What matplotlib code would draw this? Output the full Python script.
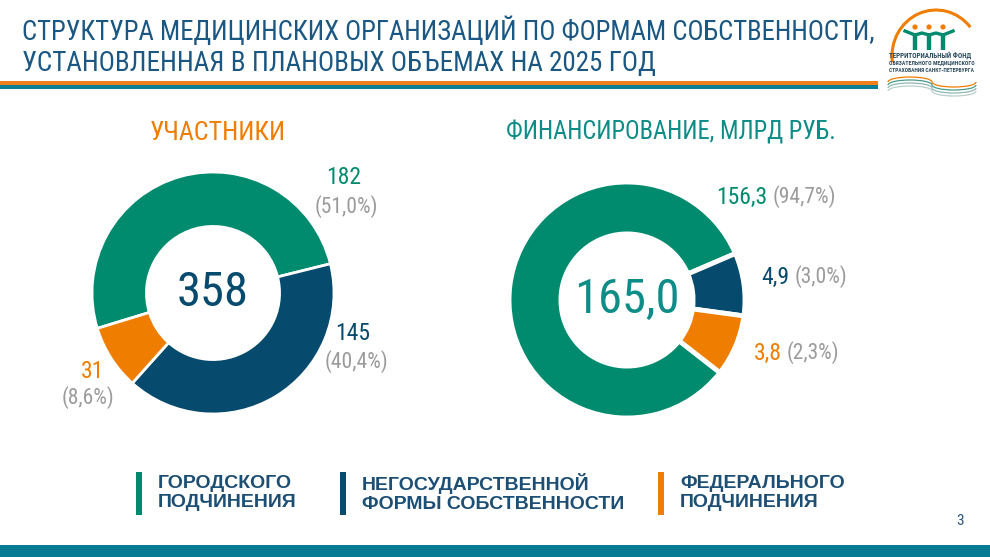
import matplotlib
matplotlib.use('Agg')
from matplotlib import pyplot as plt
from matplotlib import font_manager
from matplotlib.patches import Arc, Rectangle, Circle

# данные
members_values = [182, 145, 31]
members_labels = ['182', '145', '31']
members_pct = ['(51,0%)', '(40,4%)', '(8,6%)']
members_total = '358'

fin_values = ['156,3', '4,9', '3,8']
fin_pct = ['(94,7%)', '(3,0%)', '(2,3%)']
fin_total = '165,0'
# доли секторов, как они нарисованы на слайде (малые секторы увеличены)
fin_drawn = [83.0, 8.6, 8.4]

legend_labels = ['ГОРОДСКОГО\nПОДЧИНЕНИЯ', 'НЕГОСУДАРСТВЕННОЙ\nФОРМЫ СОБСТВЕННОСТИ', 'ФЕДЕРАЛЬНОГО\nПОДЧИНЕНИЯ']
title_lines = ['СТРУКТУРА МЕДИЦИНСКИХ ОРГАНИЗАЦИЙ ПО ФОРМАМ СОБСТВЕННОСТИ,',
               'УСТАНОВЛЕННАЯ В ПЛАНОВЫХ ОБЪЕМАХ НА 2025 ГОД']

green = '#008b6f'
navy = '#064a6e'
orange = '#ef7d00'
gray = '#9b9b9b'
title_col = '#1a5782'
teal = '#0d8c88'
colors = [green, navy, orange]

# узкий шрифт, если есть
names = {f.name for f in font_manager.fontManager.ttflist}
narrow = 'DejaVu Sans'
for cand in ['Roboto Condensed', 'Liberation Sans Narrow', 'Open Sans Condensed', 'Roboto']:
    if cand in names:
        narrow = cand
        break
bold_font = 'Liberation Sans' if 'Liberation Sans' in names else 'DejaVu Sans'

fig = plt.figure(figsize=(9.9, 5.57), dpi=100)
bg = fig.add_axes([0, 0, 1, 1])
bg.set_xlim(0, 990)
bg.set_ylim(557, 0)
bg.axis('off')
renderer = fig.canvas.get_renderer()


def fit(t, width_px):
    bb = t.get_window_extent(renderer)
    t.set_fontsize(t.get_fontsize() * width_px / bb.width)
    return t


def right_edge(t):
    bb = t.get_window_extent(renderer)
    return bb.x1


# заголовок
t = bg.text(22, 31, title_lines[0], family=narrow, color=title_col, fontsize=20, va='center', ha='left')
fit(t, 853)
t = bg.text(22, 63, title_lines[1], family=narrow, color=title_col, fontsize=20, va='center', ha='left')
fit(t, 633)

bg.add_patch(Rectangle((0, 81), 878, 4, color='#ef7f1a', lw=0))
bg.add_patch(Rectangle((0, 85), 878, 4, color='#0b7e94', lw=0))

# логотип
bg.add_patch(Arc((936, 56), 88, 92, theta1=-188, theta2=-40, color=orange, lw=2.2))
for hx in [915, 929, 943]:
    bg.add_patch(Circle((hx, 27), 2.6, color=orange, lw=0))
    bg.plot([hx, hx], [33, 50], color=green, lw=3.2, solid_capstyle='butt')
bg.plot([905, 915, 922, 929, 936, 943, 953], [31, 35, 33, 35, 33, 35, 31], color=green, lw=2.4)
for i, line in enumerate(['ТЕРРИТОРИАЛЬНЫЙ ФОНД', 'ОБЯЗАТЕЛЬНОГО МЕДИЦИНСКОГО', 'СТРАХОВАНИЯ САНКТ-ПЕТЕРБУРГА']):
    t = bg.text(889, 56 + i * 7, line, family=narrow, color='#2b4a5c', fontsize=4, va='center', ha='left', fontweight='bold')
    fit(t, 84)
for k, c in enumerate([orange, '#4a9a8a', '#8fb8b0', '#b9cfcc']):
    bg.add_patch(Arc((910, 82 + k * 3), 44, 10, theta1=180, theta2=360, color=c, lw=0.9))
    bg.add_patch(Arc((954, 82 + k * 3), 44, 10, theta1=0, theta2=180, color=c, lw=0.9))

# подзаголовки
t = bg.text(218, 133, 'УЧАСТНИКИ', family=narrow, color=orange, fontsize=20, va='center', ha='center')
fit(t, 136)
t = bg.text(671, 133, 'ФИНАНСИРОВАНИЕ, МЛРД РУБ.', family=narrow, color=teal, fontsize=20, va='center', ha='center')
fit(t, 330)

# левая диаграмма
cx, cy, R = 213, 293, 121
ax1 = fig.add_axes([(cx - R) / 990, 1 - (cy + R) / 557, 2 * R / 990, 2 * R / 557])
ax1.pie(members_values, colors=colors, startangle=197, counterclock=False, radius=1,
        wedgeprops=dict(width=0.45, edgecolor='white', linewidth=2))
ax1.set_xlim(-1, 1)
ax1.set_ylim(-1, 1)
ax1.axis('off')
ax1.text(0, 0, members_total, family=narrow, color=navy, fontsize=35, ha='center', va='center')

# правая диаграмма
cx, cy, R = 627, 300, 118
ax2 = fig.add_axes([(cx - R) / 990, 1 - (cy + R) / 557, 2 * R / 990, 2 * R / 557])
ax2.pie(fin_drawn, colors=colors, startangle=-38, counterclock=False, radius=1,
        wedgeprops=dict(width=0.44, edgecolor='white', linewidth=3.5))
ax2.set_xlim(-1, 1)
ax2.set_ylim(-1, 1)
ax2.axis('off')
ax2.text(0, 0, fin_total, family=narrow, color=teal, fontsize=35, ha='center', va='center')

# подписи левой диаграммы
pos_num = [(344, 177), (353, 333), (93, 371)]
pos_pct = [(346, 207), (357, 362), (88, 398)]
for i in range(3):
    bg.text(pos_num[i][0], pos_num[i][1], members_labels[i], family=narrow, color=colors[i], fontsize=17, ha='center', va='center')
    bg.text(pos_pct[i][0], pos_pct[i][1], members_pct[i], family=narrow, color=gray, fontsize=15.5, ha='center', va='center')

# подписи правой диаграммы
fpos = [(716, 197), (761, 277), (754, 353)]
for i in range(3):
    t = bg.text(fpos[i][0], fpos[i][1], fin_values[i], family=narrow, color=colors[i], fontsize=17, ha='left', va='center')
    x1 = right_edge(t)
    bg.text(x1 + 5, fpos[i][1], fin_pct[i], family=narrow, color=gray, fontsize=15.5, ha='left', va='center')

# легенда
bar_x = [136, 340, 658]
for i in range(3):
    bg.add_patch(Rectangle((bar_x[i], 472), 6, 43, color=colors[i], lw=0))
    bg.text(bar_x[i] + 22, 493, legend_labels[i], family=bold_font, fontweight='bold', color='#1d4f74',
            fontsize=14, ha='left', va='center', linespacing=1.1)

bg.text(960, 521, '3', family=narrow, color='#2b5a7a', fontsize=11, ha='center', va='center')
bg.add_patch(Rectangle((0, 545), 990, 12, color='#077b94', lw=0))

plt.savefig('out.png', dpi=100)
